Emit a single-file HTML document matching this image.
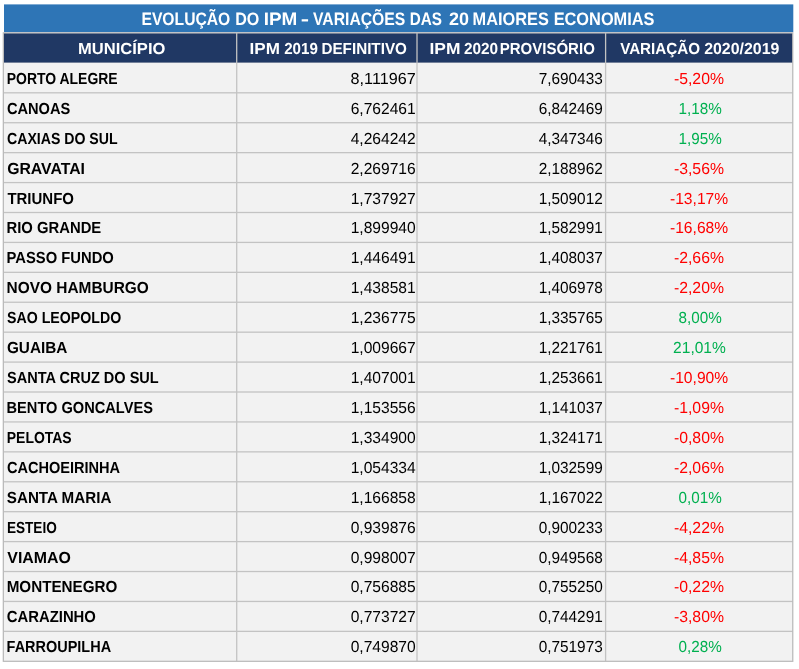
<!DOCTYPE html>
<html lang="pt-BR"><head><meta charset="utf-8"><title>Evolução do IPM</title>
<style>html,body{margin:0;padding:0;background:#fff}body{width:799px;height:669px;overflow:hidden}svg{display:block}</style></head>
<body>
<svg width="799" height="669" viewBox="0 0 799 669">
<rect x="0" y="0" width="799" height="669" fill="#fff"/>
<rect x="4.0" y="4.4" width="789.30" height="27.80" fill="#2E75B6"/>
<rect x="2.70" y="32.25" width="790.70" height="629.69" fill="#BBBBBB"/>
<rect x="4.00" y="33.55" width="788.10" height="627.09" fill="#C3C3C3"/>
<rect x="4.00" y="33.55" width="232.05" height="29.20" fill="#203864"/>
<rect x="237.35" y="33.55" width="179.00" height="29.20" fill="#203864"/>
<rect x="417.65" y="33.55" width="187.30" height="29.20" fill="#203864"/>
<rect x="606.25" y="33.55" width="185.85" height="29.20" fill="#203864"/>
<rect x="4.00" y="62.75" width="232.05" height="29.41" fill="#F2F2F2"/>
<rect x="237.35" y="62.75" width="179.00" height="29.41" fill="#F2F2F2"/>
<rect x="417.65" y="62.75" width="187.30" height="29.41" fill="#F2F2F2"/>
<rect x="606.25" y="62.75" width="185.85" height="29.41" fill="#F2F2F2"/>
<rect x="4.00" y="93.46" width="232.05" height="28.62" fill="#F2F2F2"/>
<rect x="237.35" y="93.46" width="179.00" height="28.62" fill="#F2F2F2"/>
<rect x="417.65" y="93.46" width="187.30" height="28.62" fill="#F2F2F2"/>
<rect x="606.25" y="93.46" width="185.85" height="28.62" fill="#F2F2F2"/>
<rect x="4.00" y="123.38" width="232.05" height="28.62" fill="#F2F2F2"/>
<rect x="237.35" y="123.38" width="179.00" height="28.62" fill="#F2F2F2"/>
<rect x="417.65" y="123.38" width="187.30" height="28.62" fill="#F2F2F2"/>
<rect x="606.25" y="123.38" width="185.85" height="28.62" fill="#F2F2F2"/>
<rect x="4.00" y="153.30" width="232.05" height="28.62" fill="#F2F2F2"/>
<rect x="237.35" y="153.30" width="179.00" height="28.62" fill="#F2F2F2"/>
<rect x="417.65" y="153.30" width="187.30" height="28.62" fill="#F2F2F2"/>
<rect x="606.25" y="153.30" width="185.85" height="28.62" fill="#F2F2F2"/>
<rect x="4.00" y="183.22" width="232.05" height="28.62" fill="#F2F2F2"/>
<rect x="237.35" y="183.22" width="179.00" height="28.62" fill="#F2F2F2"/>
<rect x="417.65" y="183.22" width="187.30" height="28.62" fill="#F2F2F2"/>
<rect x="606.25" y="183.22" width="185.85" height="28.62" fill="#F2F2F2"/>
<rect x="4.00" y="213.14" width="232.05" height="28.62" fill="#F2F2F2"/>
<rect x="237.35" y="213.14" width="179.00" height="28.62" fill="#F2F2F2"/>
<rect x="417.65" y="213.14" width="187.30" height="28.62" fill="#F2F2F2"/>
<rect x="606.25" y="213.14" width="185.85" height="28.62" fill="#F2F2F2"/>
<rect x="4.00" y="243.06" width="232.05" height="28.62" fill="#F2F2F2"/>
<rect x="237.35" y="243.06" width="179.00" height="28.62" fill="#F2F2F2"/>
<rect x="417.65" y="243.06" width="187.30" height="28.62" fill="#F2F2F2"/>
<rect x="606.25" y="243.06" width="185.85" height="28.62" fill="#F2F2F2"/>
<rect x="4.00" y="272.98" width="232.05" height="28.62" fill="#F2F2F2"/>
<rect x="237.35" y="272.98" width="179.00" height="28.62" fill="#F2F2F2"/>
<rect x="417.65" y="272.98" width="187.30" height="28.62" fill="#F2F2F2"/>
<rect x="606.25" y="272.98" width="185.85" height="28.62" fill="#F2F2F2"/>
<rect x="4.00" y="302.90" width="232.05" height="28.62" fill="#F2F2F2"/>
<rect x="237.35" y="302.90" width="179.00" height="28.62" fill="#F2F2F2"/>
<rect x="417.65" y="302.90" width="187.30" height="28.62" fill="#F2F2F2"/>
<rect x="606.25" y="302.90" width="185.85" height="28.62" fill="#F2F2F2"/>
<rect x="4.00" y="332.82" width="232.05" height="28.62" fill="#F2F2F2"/>
<rect x="237.35" y="332.82" width="179.00" height="28.62" fill="#F2F2F2"/>
<rect x="417.65" y="332.82" width="187.30" height="28.62" fill="#F2F2F2"/>
<rect x="606.25" y="332.82" width="185.85" height="28.62" fill="#F2F2F2"/>
<rect x="4.00" y="362.74" width="232.05" height="28.62" fill="#F2F2F2"/>
<rect x="237.35" y="362.74" width="179.00" height="28.62" fill="#F2F2F2"/>
<rect x="417.65" y="362.74" width="187.30" height="28.62" fill="#F2F2F2"/>
<rect x="606.25" y="362.74" width="185.85" height="28.62" fill="#F2F2F2"/>
<rect x="4.00" y="392.66" width="232.05" height="28.62" fill="#F2F2F2"/>
<rect x="237.35" y="392.66" width="179.00" height="28.62" fill="#F2F2F2"/>
<rect x="417.65" y="392.66" width="187.30" height="28.62" fill="#F2F2F2"/>
<rect x="606.25" y="392.66" width="185.85" height="28.62" fill="#F2F2F2"/>
<rect x="4.00" y="422.58" width="232.05" height="28.62" fill="#F2F2F2"/>
<rect x="237.35" y="422.58" width="179.00" height="28.62" fill="#F2F2F2"/>
<rect x="417.65" y="422.58" width="187.30" height="28.62" fill="#F2F2F2"/>
<rect x="606.25" y="422.58" width="185.85" height="28.62" fill="#F2F2F2"/>
<rect x="4.00" y="452.50" width="232.05" height="28.62" fill="#F2F2F2"/>
<rect x="237.35" y="452.50" width="179.00" height="28.62" fill="#F2F2F2"/>
<rect x="417.65" y="452.50" width="187.30" height="28.62" fill="#F2F2F2"/>
<rect x="606.25" y="452.50" width="185.85" height="28.62" fill="#F2F2F2"/>
<rect x="4.00" y="482.42" width="232.05" height="28.62" fill="#F2F2F2"/>
<rect x="237.35" y="482.42" width="179.00" height="28.62" fill="#F2F2F2"/>
<rect x="417.65" y="482.42" width="187.30" height="28.62" fill="#F2F2F2"/>
<rect x="606.25" y="482.42" width="185.85" height="28.62" fill="#F2F2F2"/>
<rect x="4.00" y="512.34" width="232.05" height="28.62" fill="#F2F2F2"/>
<rect x="237.35" y="512.34" width="179.00" height="28.62" fill="#F2F2F2"/>
<rect x="417.65" y="512.34" width="187.30" height="28.62" fill="#F2F2F2"/>
<rect x="606.25" y="512.34" width="185.85" height="28.62" fill="#F2F2F2"/>
<rect x="4.00" y="542.26" width="232.05" height="28.62" fill="#F2F2F2"/>
<rect x="237.35" y="542.26" width="179.00" height="28.62" fill="#F2F2F2"/>
<rect x="417.65" y="542.26" width="187.30" height="28.62" fill="#F2F2F2"/>
<rect x="606.25" y="542.26" width="185.85" height="28.62" fill="#F2F2F2"/>
<rect x="4.00" y="572.18" width="232.05" height="28.62" fill="#F2F2F2"/>
<rect x="237.35" y="572.18" width="179.00" height="28.62" fill="#F2F2F2"/>
<rect x="417.65" y="572.18" width="187.30" height="28.62" fill="#F2F2F2"/>
<rect x="606.25" y="572.18" width="185.85" height="28.62" fill="#F2F2F2"/>
<rect x="4.00" y="602.10" width="232.05" height="28.62" fill="#F2F2F2"/>
<rect x="237.35" y="602.10" width="179.00" height="28.62" fill="#F2F2F2"/>
<rect x="417.65" y="602.10" width="187.30" height="28.62" fill="#F2F2F2"/>
<rect x="606.25" y="602.10" width="185.85" height="28.62" fill="#F2F2F2"/>
<rect x="4.00" y="632.02" width="232.05" height="28.62" fill="#F2F2F2"/>
<rect x="237.35" y="632.02" width="179.00" height="28.62" fill="#F2F2F2"/>
<rect x="417.65" y="632.02" width="187.30" height="28.62" fill="#F2F2F2"/>
<rect x="606.25" y="632.02" width="185.85" height="28.62" fill="#F2F2F2"/>
<defs><filter id="soft" x="-2%" y="-2%" width="104%" height="104%" color-interpolation-filters="sRGB"><feGaussianBlur stdDeviation="0.4"/></filter></defs>
<g font-family="'Liberation Sans', sans-serif" text-rendering="geometricPrecision" filter="url(#soft)">
<text id="title" y="25.00" font-size="18.00" font-weight="bold" fill="#fff"><tspan x="141.45" textLength="88.87" lengthAdjust="spacingAndGlyphs">EVOLUÇÃO</tspan> <tspan x="235.17" textLength="24.15" lengthAdjust="spacingAndGlyphs">DO</tspan> <tspan x="263.73" textLength="33.67" lengthAdjust="spacingAndGlyphs">IPM</tspan> <tspan x="300.89" textLength="8.30" lengthAdjust="spacingAndGlyphs">-</tspan> <tspan x="312.99" textLength="92.36" lengthAdjust="spacingAndGlyphs">VARIAÇÕES</tspan> <tspan x="409.63" textLength="32.27" lengthAdjust="spacingAndGlyphs">DAS</tspan> <tspan x="449.00" textLength="20.00" lengthAdjust="spacingAndGlyphs">20</tspan> <tspan x="472.61" textLength="76.19" lengthAdjust="spacingAndGlyphs">MAIORES</tspan> <tspan x="553.63" textLength="100.91" lengthAdjust="spacingAndGlyphs">ECONOMIAS</tspan></text>
<text id="h0" y="54.40" font-size="16.00" font-weight="bold" fill="#fff" x="78.10" textLength="87.27" lengthAdjust="spacingAndGlyphs">MUNICÍPIO</text>
<text id="h1" y="54.40" font-size="16.00" font-weight="bold" fill="#fff"><tspan x="249.60" textLength="30.33" lengthAdjust="spacingAndGlyphs">IPM</tspan> <tspan x="284.16" textLength="33.69" lengthAdjust="spacingAndGlyphs">2019</tspan> <tspan x="321.48" textLength="85.42" lengthAdjust="spacingAndGlyphs">DEFINITIVO</tspan></text>
<text id="h2" y="54.40" font-size="16.00" font-weight="bold" fill="#fff"><tspan x="429.49" textLength="30.93" lengthAdjust="spacingAndGlyphs">IPM</tspan> <tspan x="463.89" textLength="34.20" lengthAdjust="spacingAndGlyphs">2020</tspan> <tspan x="499.68" textLength="95.15" lengthAdjust="spacingAndGlyphs">PROVISÓRIO</tspan></text>
<text id="h3" y="54.40" font-size="16.00" font-weight="bold" fill="#fff"><tspan x="620.13" textLength="79.93" lengthAdjust="spacingAndGlyphs">VARIAÇÃO</tspan> <tspan x="704.17" textLength="75.17" lengthAdjust="spacingAndGlyphs">2020/2019</tspan></text>
<text id="r0a" y="83.85" font-size="16.00" font-weight="bold" fill="#000000" x="6.79" textLength="110.86" lengthAdjust="spacingAndGlyphs">PORTO ALEGRE</text>
<text id="r0b" y="83.85" font-size="16.00" font-weight="normal" fill="#000000" x="350.64" textLength="65.06" lengthAdjust="spacingAndGlyphs">8,111967</text>
<text id="r0c" y="83.85" font-size="16.00" font-weight="normal" fill="#000000" x="538.63" textLength="64.12" lengthAdjust="spacingAndGlyphs">7,690433</text>
<text id="r0d" y="83.85" font-size="16.00" font-weight="normal" fill="#FF0000" x="673.96" textLength="50.02" lengthAdjust="spacingAndGlyphs">-5,20%</text>
<text id="r1a" y="113.77" font-size="16.00" font-weight="bold" fill="#000000" x="6.90" textLength="63.39" lengthAdjust="spacingAndGlyphs">CANOAS</text>
<text id="r1b" y="113.77" font-size="16.00" font-weight="normal" fill="#000000" x="350.64" textLength="65.06" lengthAdjust="spacingAndGlyphs">6,762461</text>
<text id="r1c" y="113.77" font-size="16.00" font-weight="normal" fill="#000000" x="538.63" textLength="64.12" lengthAdjust="spacingAndGlyphs">6,842469</text>
<text id="r1d" y="113.77" font-size="16.00" font-weight="normal" fill="#00B050" x="678.46" textLength="43.24" lengthAdjust="spacingAndGlyphs">1,18%</text>
<text id="r2a" y="143.68" font-size="16.00" font-weight="bold" fill="#000000" x="7.00" textLength="110.61" lengthAdjust="spacingAndGlyphs">CAXIAS DO SUL</text>
<text id="r2b" y="143.68" font-size="16.00" font-weight="normal" fill="#000000" x="350.64" textLength="65.06" lengthAdjust="spacingAndGlyphs">4,264242</text>
<text id="r2c" y="143.68" font-size="16.00" font-weight="normal" fill="#000000" x="538.63" textLength="64.12" lengthAdjust="spacingAndGlyphs">4,347346</text>
<text id="r2d" y="143.68" font-size="16.00" font-weight="normal" fill="#00B050" x="678.46" textLength="43.24" lengthAdjust="spacingAndGlyphs">1,95%</text>
<text id="r3a" y="173.60" font-size="16.00" font-weight="bold" fill="#000000" x="7.13" textLength="77.82" lengthAdjust="spacingAndGlyphs">GRAVATAI</text>
<text id="r3b" y="173.60" font-size="16.00" font-weight="normal" fill="#000000" x="350.64" textLength="65.06" lengthAdjust="spacingAndGlyphs">2,269716</text>
<text id="r3c" y="173.60" font-size="16.00" font-weight="normal" fill="#000000" x="538.63" textLength="64.12" lengthAdjust="spacingAndGlyphs">2,188962</text>
<text id="r3d" y="173.60" font-size="16.00" font-weight="normal" fill="#FF0000" x="673.96" textLength="50.02" lengthAdjust="spacingAndGlyphs">-3,56%</text>
<text id="r4a" y="203.51" font-size="16.00" font-weight="bold" fill="#000000" x="7.41" textLength="66.53" lengthAdjust="spacingAndGlyphs">TRIUNFO</text>
<text id="r4b" y="203.51" font-size="16.00" font-weight="normal" fill="#000000" x="350.64" textLength="65.06" lengthAdjust="spacingAndGlyphs">1,737927</text>
<text id="r4c" y="203.51" font-size="16.00" font-weight="normal" fill="#000000" x="538.63" textLength="64.12" lengthAdjust="spacingAndGlyphs">1,509012</text>
<text id="r4d" y="203.51" font-size="16.00" font-weight="normal" fill="#FF0000" x="669.99" textLength="58.17" lengthAdjust="spacingAndGlyphs">-13,17%</text>
<text id="r5a" y="233.43" font-size="16.00" font-weight="bold" fill="#000000" x="6.51" textLength="94.74" lengthAdjust="spacingAndGlyphs">RIO GRANDE</text>
<text id="r5b" y="233.43" font-size="16.00" font-weight="normal" fill="#000000" x="350.64" textLength="65.06" lengthAdjust="spacingAndGlyphs">1,899940</text>
<text id="r5c" y="233.43" font-size="16.00" font-weight="normal" fill="#000000" x="538.63" textLength="64.12" lengthAdjust="spacingAndGlyphs">1,582991</text>
<text id="r5d" y="233.43" font-size="16.00" font-weight="normal" fill="#FF0000" x="669.99" textLength="58.17" lengthAdjust="spacingAndGlyphs">-16,68%</text>
<text id="r6a" y="263.35" font-size="16.00" font-weight="bold" fill="#000000" x="6.52" textLength="107.30" lengthAdjust="spacingAndGlyphs">PASSO FUNDO</text>
<text id="r6b" y="263.35" font-size="16.00" font-weight="normal" fill="#000000" x="350.64" textLength="65.06" lengthAdjust="spacingAndGlyphs">1,446491</text>
<text id="r6c" y="263.35" font-size="16.00" font-weight="normal" fill="#000000" x="538.63" textLength="64.12" lengthAdjust="spacingAndGlyphs">1,408037</text>
<text id="r6d" y="263.35" font-size="16.00" font-weight="normal" fill="#FF0000" x="673.96" textLength="50.02" lengthAdjust="spacingAndGlyphs">-2,66%</text>
<text id="r7a" y="293.26" font-size="16.00" font-weight="bold" fill="#000000" x="6.56" textLength="142.30" lengthAdjust="spacingAndGlyphs">NOVO HAMBURGO</text>
<text id="r7b" y="293.26" font-size="16.00" font-weight="normal" fill="#000000" x="350.64" textLength="65.06" lengthAdjust="spacingAndGlyphs">1,438581</text>
<text id="r7c" y="293.26" font-size="16.00" font-weight="normal" fill="#000000" x="538.63" textLength="64.12" lengthAdjust="spacingAndGlyphs">1,406978</text>
<text id="r7d" y="293.26" font-size="16.00" font-weight="normal" fill="#FF0000" x="673.96" textLength="50.02" lengthAdjust="spacingAndGlyphs">-2,20%</text>
<text id="r8a" y="323.18" font-size="16.00" font-weight="bold" fill="#000000" x="7.05" textLength="114.21" lengthAdjust="spacingAndGlyphs">SAO LEOPOLDO</text>
<text id="r8b" y="323.18" font-size="16.00" font-weight="normal" fill="#000000" x="350.64" textLength="65.06" lengthAdjust="spacingAndGlyphs">1,236775</text>
<text id="r8c" y="323.18" font-size="16.00" font-weight="normal" fill="#000000" x="538.63" textLength="64.12" lengthAdjust="spacingAndGlyphs">1,335765</text>
<text id="r8d" y="323.18" font-size="16.00" font-weight="normal" fill="#00B050" x="678.46" textLength="43.24" lengthAdjust="spacingAndGlyphs">8,00%</text>
<text id="r9a" y="353.09" font-size="16.00" font-weight="bold" fill="#000000" x="6.94" textLength="60.40" lengthAdjust="spacingAndGlyphs">GUAIBA</text>
<text id="r9b" y="353.09" font-size="16.00" font-weight="normal" fill="#000000" x="350.64" textLength="65.06" lengthAdjust="spacingAndGlyphs">1,009667</text>
<text id="r9c" y="353.09" font-size="16.00" font-weight="normal" fill="#000000" x="538.63" textLength="64.12" lengthAdjust="spacingAndGlyphs">1,221761</text>
<text id="r9d" y="353.09" font-size="16.00" font-weight="normal" fill="#00B050" x="673.11" textLength="52.71" lengthAdjust="spacingAndGlyphs">21,01%</text>
<text id="r10a" y="383.01" font-size="16.00" font-weight="bold" fill="#000000" x="6.97" textLength="151.77" lengthAdjust="spacingAndGlyphs">SANTA CRUZ DO SUL</text>
<text id="r10b" y="383.01" font-size="16.00" font-weight="normal" fill="#000000" x="350.64" textLength="65.06" lengthAdjust="spacingAndGlyphs">1,407001</text>
<text id="r10c" y="383.01" font-size="16.00" font-weight="normal" fill="#000000" x="538.63" textLength="64.12" lengthAdjust="spacingAndGlyphs">1,253661</text>
<text id="r10d" y="383.01" font-size="16.00" font-weight="normal" fill="#FF0000" x="669.99" textLength="58.17" lengthAdjust="spacingAndGlyphs">-10,90%</text>
<text id="r11a" y="412.93" font-size="16.00" font-weight="bold" fill="#000000" x="6.55" textLength="146.33" lengthAdjust="spacingAndGlyphs">BENTO GONCALVES</text>
<text id="r11b" y="412.93" font-size="16.00" font-weight="normal" fill="#000000" x="350.64" textLength="65.06" lengthAdjust="spacingAndGlyphs">1,153556</text>
<text id="r11c" y="412.93" font-size="16.00" font-weight="normal" fill="#000000" x="538.63" textLength="64.12" lengthAdjust="spacingAndGlyphs">1,141037</text>
<text id="r11d" y="412.93" font-size="16.00" font-weight="normal" fill="#FF0000" x="673.96" textLength="50.02" lengthAdjust="spacingAndGlyphs">-1,09%</text>
<text id="r12a" y="442.84" font-size="16.00" font-weight="bold" fill="#000000" x="6.78" textLength="64.92" lengthAdjust="spacingAndGlyphs">PELOTAS</text>
<text id="r12b" y="442.84" font-size="16.00" font-weight="normal" fill="#000000" x="350.64" textLength="65.06" lengthAdjust="spacingAndGlyphs">1,334900</text>
<text id="r12c" y="442.84" font-size="16.00" font-weight="normal" fill="#000000" x="538.63" textLength="64.12" lengthAdjust="spacingAndGlyphs">1,324171</text>
<text id="r12d" y="442.84" font-size="16.00" font-weight="normal" fill="#FF0000" x="673.96" textLength="50.02" lengthAdjust="spacingAndGlyphs">-0,80%</text>
<text id="r13a" y="472.76" font-size="16.00" font-weight="bold" fill="#000000" x="6.90" textLength="113.24" lengthAdjust="spacingAndGlyphs">CACHOEIRINHA</text>
<text id="r13b" y="472.76" font-size="16.00" font-weight="normal" fill="#000000" x="350.64" textLength="65.06" lengthAdjust="spacingAndGlyphs">1,054334</text>
<text id="r13c" y="472.76" font-size="16.00" font-weight="normal" fill="#000000" x="538.63" textLength="64.12" lengthAdjust="spacingAndGlyphs">1,032599</text>
<text id="r13d" y="472.76" font-size="16.00" font-weight="normal" fill="#FF0000" x="673.96" textLength="50.02" lengthAdjust="spacingAndGlyphs">-2,06%</text>
<text id="r14a" y="502.67" font-size="16.00" font-weight="bold" fill="#000000" x="6.84" textLength="104.51" lengthAdjust="spacingAndGlyphs">SANTA MARIA</text>
<text id="r14b" y="502.67" font-size="16.00" font-weight="normal" fill="#000000" x="350.64" textLength="65.06" lengthAdjust="spacingAndGlyphs">1,166858</text>
<text id="r14c" y="502.67" font-size="16.00" font-weight="normal" fill="#000000" x="538.63" textLength="64.12" lengthAdjust="spacingAndGlyphs">1,167022</text>
<text id="r14d" y="502.67" font-size="16.00" font-weight="normal" fill="#00B050" x="678.46" textLength="43.24" lengthAdjust="spacingAndGlyphs">0,01%</text>
<text id="r15a" y="532.59" font-size="16.00" font-weight="bold" fill="#000000" x="6.90" textLength="49.89" lengthAdjust="spacingAndGlyphs">ESTEIO</text>
<text id="r15b" y="532.59" font-size="16.00" font-weight="normal" fill="#000000" x="350.64" textLength="65.06" lengthAdjust="spacingAndGlyphs">0,939876</text>
<text id="r15c" y="532.59" font-size="16.00" font-weight="normal" fill="#000000" x="538.63" textLength="64.12" lengthAdjust="spacingAndGlyphs">0,900233</text>
<text id="r15d" y="532.59" font-size="16.00" font-weight="normal" fill="#FF0000" x="673.96" textLength="50.02" lengthAdjust="spacingAndGlyphs">-4,22%</text>
<text id="r16a" y="562.51" font-size="16.00" font-weight="bold" fill="#000000" x="7.31" textLength="63.52" lengthAdjust="spacingAndGlyphs">VIAMAO</text>
<text id="r16b" y="562.51" font-size="16.00" font-weight="normal" fill="#000000" x="350.64" textLength="65.06" lengthAdjust="spacingAndGlyphs">0,998007</text>
<text id="r16c" y="562.51" font-size="16.00" font-weight="normal" fill="#000000" x="538.63" textLength="64.12" lengthAdjust="spacingAndGlyphs">0,949568</text>
<text id="r16d" y="562.51" font-size="16.00" font-weight="normal" fill="#FF0000" x="673.96" textLength="50.02" lengthAdjust="spacingAndGlyphs">-4,85%</text>
<text id="r17a" y="592.42" font-size="16.00" font-weight="bold" fill="#000000" x="6.64" textLength="110.78" lengthAdjust="spacingAndGlyphs">MONTENEGRO</text>
<text id="r17b" y="592.42" font-size="16.00" font-weight="normal" fill="#000000" x="350.64" textLength="65.06" lengthAdjust="spacingAndGlyphs">0,756885</text>
<text id="r17c" y="592.42" font-size="16.00" font-weight="normal" fill="#000000" x="538.63" textLength="64.12" lengthAdjust="spacingAndGlyphs">0,755250</text>
<text id="r17d" y="592.42" font-size="16.00" font-weight="normal" fill="#FF0000" x="673.96" textLength="50.02" lengthAdjust="spacingAndGlyphs">-0,22%</text>
<text id="r18a" y="622.34" font-size="16.00" font-weight="bold" fill="#000000" x="6.86" textLength="89.02" lengthAdjust="spacingAndGlyphs">CARAZINHO</text>
<text id="r18b" y="622.34" font-size="16.00" font-weight="normal" fill="#000000" x="350.64" textLength="65.06" lengthAdjust="spacingAndGlyphs">0,773727</text>
<text id="r18c" y="622.34" font-size="16.00" font-weight="normal" fill="#000000" x="538.63" textLength="64.12" lengthAdjust="spacingAndGlyphs">0,744291</text>
<text id="r18d" y="622.34" font-size="16.00" font-weight="normal" fill="#FF0000" x="673.96" textLength="50.02" lengthAdjust="spacingAndGlyphs">-3,80%</text>
<text id="r19a" y="652.25" font-size="16.00" font-weight="bold" fill="#000000" x="6.61" textLength="104.48" lengthAdjust="spacingAndGlyphs">FARROUPILHA</text>
<text id="r19b" y="652.25" font-size="16.00" font-weight="normal" fill="#000000" x="350.64" textLength="65.06" lengthAdjust="spacingAndGlyphs">0,749870</text>
<text id="r19c" y="652.25" font-size="16.00" font-weight="normal" fill="#000000" x="538.63" textLength="64.12" lengthAdjust="spacingAndGlyphs">0,751973</text>
<text id="r19d" y="652.25" font-size="16.00" font-weight="normal" fill="#00B050" x="678.46" textLength="43.24" lengthAdjust="spacingAndGlyphs">0,28%</text>
</g></svg>
</body></html>
